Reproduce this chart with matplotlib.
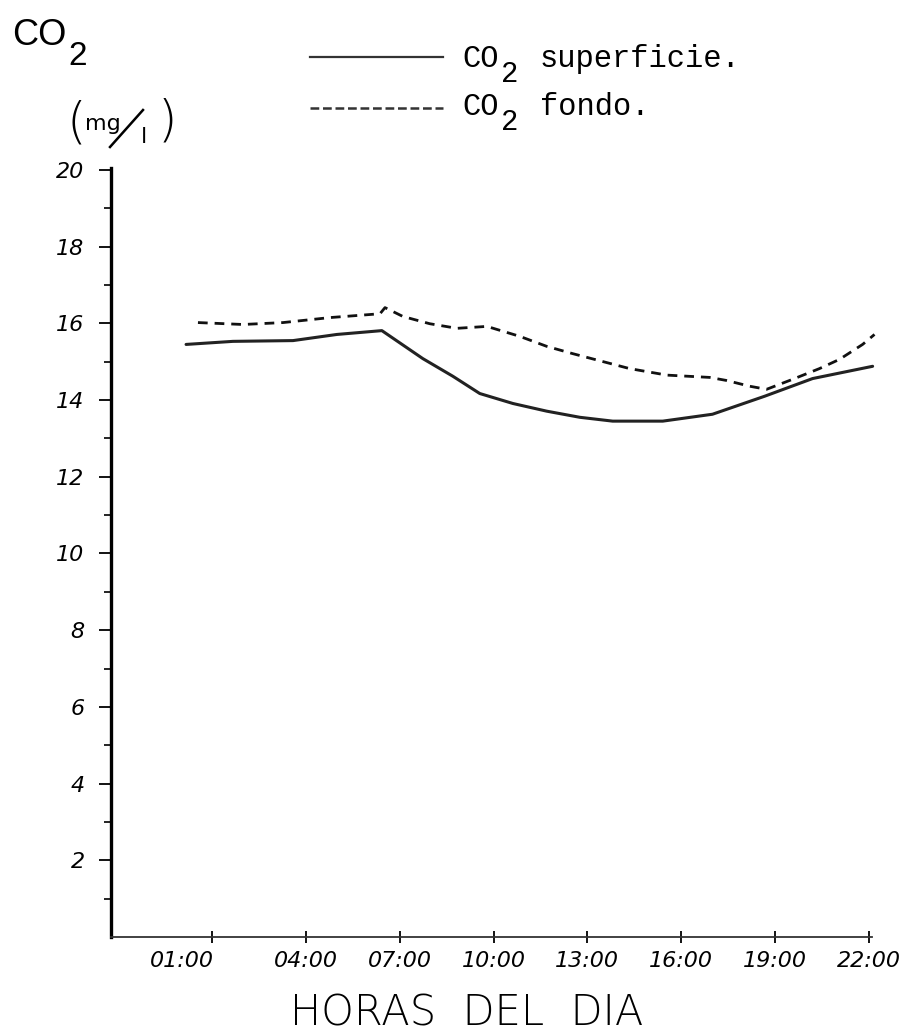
import numpy as np
import matplotlib
matplotlib.use('Agg')
import matplotlib.pyplot as plt
import matplotlib.transforms as mtrans
from matplotlib.lines import Line2D

#  Data (decimal hours, CO2 in mg/l)
horas_sup = [0.17, 1.67, 3.59, 4.99, 6.43, 7.74, 8.70, 9.56, 10.62, 11.70,
             12.76, 13.81, 15.41, 17.0, 18.67, 20.2, 22.12]
co2_sup = [15.45, 15.53, 15.55, 15.71, 15.81, 15.08, 14.62, 14.17, 13.91, 13.71,
           13.55, 13.45, 13.45, 13.63, 14.10, 14.56, 14.88]

horas_fondo = [0.55, 1.99, 3.27, 4.77, 6.37, 6.53, 7.10, 7.96, 8.83, 9.79,
               10.84, 11.70, 12.53, 14.35, 15.54, 16.91, 17.45, 18.19, 18.73,
               19.56, 20.42, 21.06, 21.80, 22.18]
co2_fondo = [16.02, 15.97, 16.02, 16.15, 16.25, 16.41, 16.18, 15.99, 15.87, 15.92,
             15.66, 15.40, 15.21, 14.82, 14.65, 14.59, 14.51, 14.36, 14.28,
             14.54, 14.82, 15.06, 15.45, 15.71]

x_ticks = [1, 4, 7, 10, 13, 16, 19, 22]
x_labels = ['01:00', '04:00', '07:00', '10:00', '13:00', '16:00', '19:00', '22:00']
y_ticks = [2, 4, 6, 8, 10, 12, 14, 16, 18, 20]
y_minor = [1, 3, 5, 7, 9, 11, 13, 15, 17, 19]

W, H = 919, 1032
fig = plt.figure(figsize=(W / 100, H / 100), dpi=100)
ax = fig.add_axes([111 / W, 1 - 937 / H, (872 - 111) / W, (937 - 168) / H])

ax.plot(horas_sup, co2_sup, color='#222222', lw=2.2, solid_capstyle='round', clip_on=False)
ax.plot(horas_fondo, co2_fondo, color='#111111', lw=2.0, dashes=(3.5, 2.5), clip_on=False)

ax.set_xlim(-2.23, 22.1)
ax.set_ylim(0, 20.05)

for s in ['top', 'right']:
    ax.spines[s].set_visible(False)
ax.spines['left'].set_linewidth(2.4)
ax.spines['bottom'].set_linewidth(1.3)
ax.spines['bottom'].set_color('#333333')

ax.set_yticks(y_ticks)
ax.set_yticks(y_minor, minor=True)
ax.set_yticklabels([str(v) for v in y_ticks], fontsize=16, fontstyle='italic')
ax.tick_params(axis='y', which='major', direction='out', length=9, width=1.3, pad=10)
ax.tick_params(axis='y', which='minor', direction='out', length=5, width=1.2)

ax.set_xticks(x_ticks)
ax.set_xticklabels(x_labels, fontsize=16, fontstyle='italic')
ax.tick_params(axis='x', direction='inout', length=8, width=1.3, pad=6)
# hand lettering: first label sits left of its tick
first = ax.get_xticklabels()[0]
first.set_transform(first.get_transform() + mtrans.ScaledTranslation(-0.3, 0, fig.dpi_scale_trans))

#  Titles
fig.text(12 / W, 1 - 45 / H, 'CO', fontsize=26, family='Liberation Sans', va='baseline')
fig.text(68 / W, 1 - 65 / H, '2', fontsize=24, family='Liberation Sans', va='baseline')

fig.text(67 / W, 1 - 124 / H, '(', fontsize=36, va='center', fontweight='light')
fig.text(85 / W, 1 - 130 / H, 'mg', fontsize=16, va='baseline')
fig.add_artist(Line2D([110 / W, 143 / W], [1 - 147 / H, 1 - 110 / H], color='black', lw=1.8))
fig.text(141 / W, 1 - 143 / H, 'l', fontsize=16, va='baseline')
fig.text(158 / W, 1 - 121 / H, ')', fontsize=36, va='center', fontweight='light')

#  Legend
mono = ['Liberation Mono', 'DejaVu Sans Mono']
fig.add_artist(Line2D([310 / W, 443 / W], [1 - 57 / H, 1 - 57 / H], color='#333333', lw=1.6))
fig.add_artist(Line2D([310 / W, 443 / W], [1 - 108 / H, 1 - 108 / H], color='#333333', lw=1.8,
                      dashes=(3.5, 1.5)))
for base, lab in [(67, 'superficie.'), (115, 'fondo.')]:
    fig.text(462 / W, 1 - base / H, 'CO', fontsize=22, family=mono, va='baseline')
    fig.text(501 / W, 1 - (base + 15) / H, '2', fontsize=21, family=mono, va='baseline')
    fig.text(540 / W, 1 - base / H, lab, fontsize=22, family=mono, va='baseline')

fig.text(467 / W, 1 - 1025 / H, 'HORAS  DEL  DIA', fontsize=30, ha='center', va='baseline',
         fontweight='light')

plt.savefig('out.png', dpi=100)
